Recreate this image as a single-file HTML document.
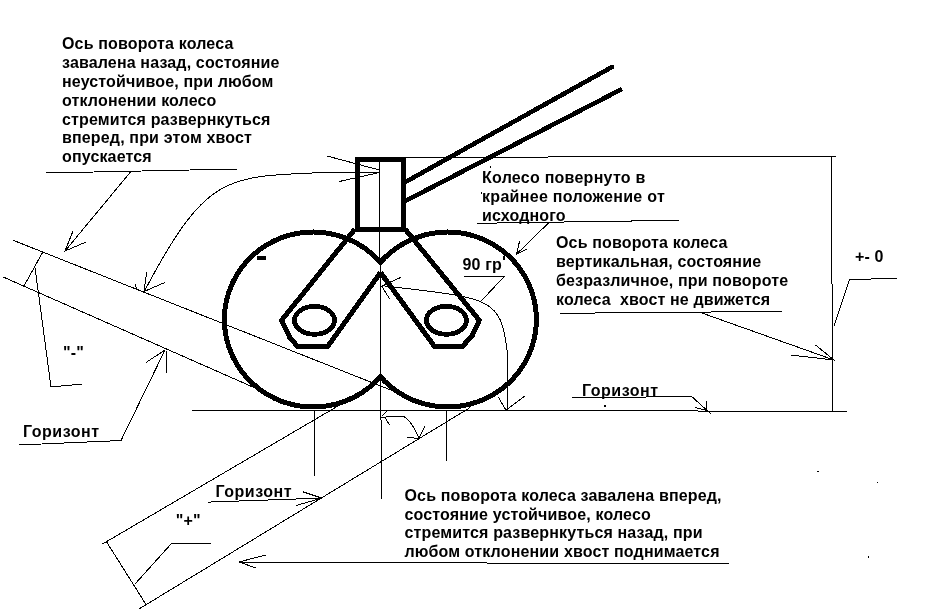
<!DOCTYPE html>
<html><head><meta charset="utf-8">
<style>
html,body{margin:0;padding:0;background:#fff;width:931px;height:613px;overflow:hidden}
svg{position:absolute;left:0;top:0;will-change:transform}
text{white-space:pre;font-family:"Liberation Sans",sans-serif;font-weight:bold;font-size:16px;fill:#000;letter-spacing:0.15px}
.t{fill:none;stroke:#000;stroke-width:1;shape-rendering:crispEdges}
.h{stroke-width:1}
.k{fill:none;stroke:#000;stroke-width:5;shape-rendering:crispEdges}
</style></head><body>
<svg width="931" height="613" viewBox="0 0 931 613">
<g class="t">
<!-- top-left text underline + arrow -->
<path d="M46,173 L238,169"/>
<path d="M130.5,172 L65,251 M73,231 L65,251 L86,242"/>
<!-- tilted lines "-" -->
<path d="M12.9,240.2 L395,391.7"/>
<path d="M2.7,276.8 L258,389.3"/>
<path d="M42.5,252.5 L24,286"/>
<path d="M35,267.5 L51,387 L82,384"/>
<!-- curve arrow to tilted line -->
<path d="M380,172.5 L330,172.3 C225.3,176.5 207.7,172 144.2,291.5"/>
<path d="M146.8,272 L144,291.5 L164.8,282.5"/>
<path d="M135.2,283.7 L136.4,288.9"/>
<path d="M327,156 L380.5,170.3 M339.3,181.5 L379.3,172.5"/>
<!-- Горизонт left arrow -->
<path d="M19,445 L121,440.5 L165,350"/>
<path d="M146,362.5 L165,350 M166.5,351 L166.5,372.5"/>
<!-- "+" tilted lines -->
<path d="M102.5,544 L338,406"/>
<path d="M139,609 L470,407.6"/>
<path d="M106,541 L146,604.5"/>
<path d="M135,584 L171,544 L211,543.3"/>
<!-- Горизонт bottom arrow -->
<path d="M208.4,502.1 L321.8,498.1 M302.9,491.8 L321.8,498.1 L296,505.5"/>
<!-- bottom text arrow -->
<path d="M729,564 L239,562 M265.5,555 L239,562 L256,568"/>
<!-- horizon -->
<path class="h" d="M192,410.5 L698,410.5 M698,411.5 L847,411.5"/>
<!-- verticals -->
<path class="h" d="M314.5,410 L314.5,476 M379.5,162 L379.5,260 M380.5,260 L380.5,420 M381.5,420 L381.5,499 M446.5,410 L446.5,461"/>
<!-- top line and right vertical -->
<path d="M405,157.5 L835.5,156"/><path class="h" d="M831.5,156 L831.5,284 M832.5,284 L832.5,411"/>
<!-- +-0 bracket -->
<path d="M897,278.4 L849.5,279.5 L834,326"/>
<!-- right text underline + arrow -->
<path d="M560,313.3 L782.3,311.4"/>
<path d="M700.4,312.5 L834,360 M815.5,345 L834,360 L790.5,355"/>
<!-- Колесо underline + arrow -->
<path d="M477,223.3 L679,220.3"/>
<path d="M548.5,223 L516.6,254 M519.5,241.4 L516.6,254 L527.3,249.1"/>
<!-- 90 gr underline -->
<path d="M464,276.7 L504,276.7 L480.7,301.5"/>
<!-- 90 deg arc -->
<path d="M381.6,285.6 C486.6,298.1 501,295.5 507,350 L507,410"/>
<path d="M498.5,397.5 L506,410 L525,396"/>
<path d="M401,277.3 L381.7,286 L389.4,298.6"/>
<!-- Горизонт right underline -->
<path d="M572,398 L691.6,396.4 L711.5,414.5 M706.5,401 L706.5,410 M695,407.4 L705.8,410.2"/>
<!-- small arc below horizon -->
<path d="M381.6,418 L386,417 L393,416.3 L404,416.5 C408,419 414,426 419,438.5"/>
<path d="M385,417.5 L389.5,425 M381.6,416.5 L388,410 M407.2,437.3 L419,438.5 L425,426"/>
<path d="M504.6,255.5 L503.8,259.8" stroke-width="1.8"/>
</g>
<g class="k">
<rect x="357.5" y="159.6" width="46" height="70"/>
<path d="M403.6,183 L612,67" stroke-width="4.6" stroke-linecap="round"/>
<path d="M403.6,201.9 L622,89" stroke-width="4.6"/>
<path d="M382,264.2 A88.8,87.5 0 1,0 382,374.8"/>
<path d="M378.8,264.2 A88.8,87.5 0 1,1 378.8,374.8"/>
<path d="M355,229 L281.6,320.3 L290,338 L298,346.8 L327.5,346.8 L380.5,272.5"/>
<path d="M405,229 L479.3,320.3 L472,336 L462,346.8 L434.8,346.8 L380.5,272.5"/>
<ellipse cx="314.5" cy="320.3" rx="20" ry="14" stroke-width="4.8"/>
<ellipse cx="446.4" cy="320.3" rx="20" ry="14" stroke-width="4.8"/>
<path d="M258.5,258 L264.5,258" stroke-width="4" stroke-linecap="round"/>
</g>
<rect x="604" y="405" width="2" height="2"/>
<rect x="817" y="471" width="2" height="1"/>
<rect x="877" y="482" width="1" height="1"/>
<rect x="868" y="556" width="1" height="2"/>
<rect x="490" y="166" width="1" height="2"/>
<rect x="481" y="192" width="1" height="2"/>
<!-- texts -->
<text x="62" y="49.3">Ось поворота колеса</text>
<text x="62" y="68.1">завалена назад, состояние</text>
<text x="62" y="86.9">неустойчивое, при любом</text>
<text x="62" y="105.7">отклонении колесо</text>
<text x="62" y="124.5">стремится развернкуться</text>
<text x="62" y="143.3">вперед, при этом хвост</text>
<text x="62" y="162.1">опускается</text>

<text x="482" y="183.3" style="letter-spacing:0.25px">Колесо повернуто в</text>
<text x="482" y="202" style="letter-spacing:0.3px">крайнее положение от</text>
<text x="482" y="221.2">исходного</text>

<text x="556" y="248.2">Ось поворота колеса</text>
<text x="556" y="266.6">вертикальная, состояние</text>
<text x="556" y="285.5">безразличное, при повороте</text>
<text x="556" y="305">колеса  хвост не движется</text>

<text x="855" y="262">+- 0</text>
<text x="462.5" y="270">90 гр</text>
<text x="63" y="358">"-"</text>
<text x="23" y="437" style="letter-spacing:0.5px">Горизонт</text>
<text x="582" y="395.8" style="letter-spacing:0.5px">Горизонт</text>
<text x="215.5" y="497" style="letter-spacing:0.5px">Горизонт</text>
<text x="175.8" y="526.3">"+"</text>

<text x="404.5" y="501">Ось поворота колеса завалена вперед,</text>
<text x="404.5" y="519.5">состояние устойчивое, колесо</text>
<text x="404.5" y="538">стремится развернкуться назад, при</text>
<text x="404.5" y="557.2">любом отклонении хвост поднимается</text>
</svg>
</body></html>
